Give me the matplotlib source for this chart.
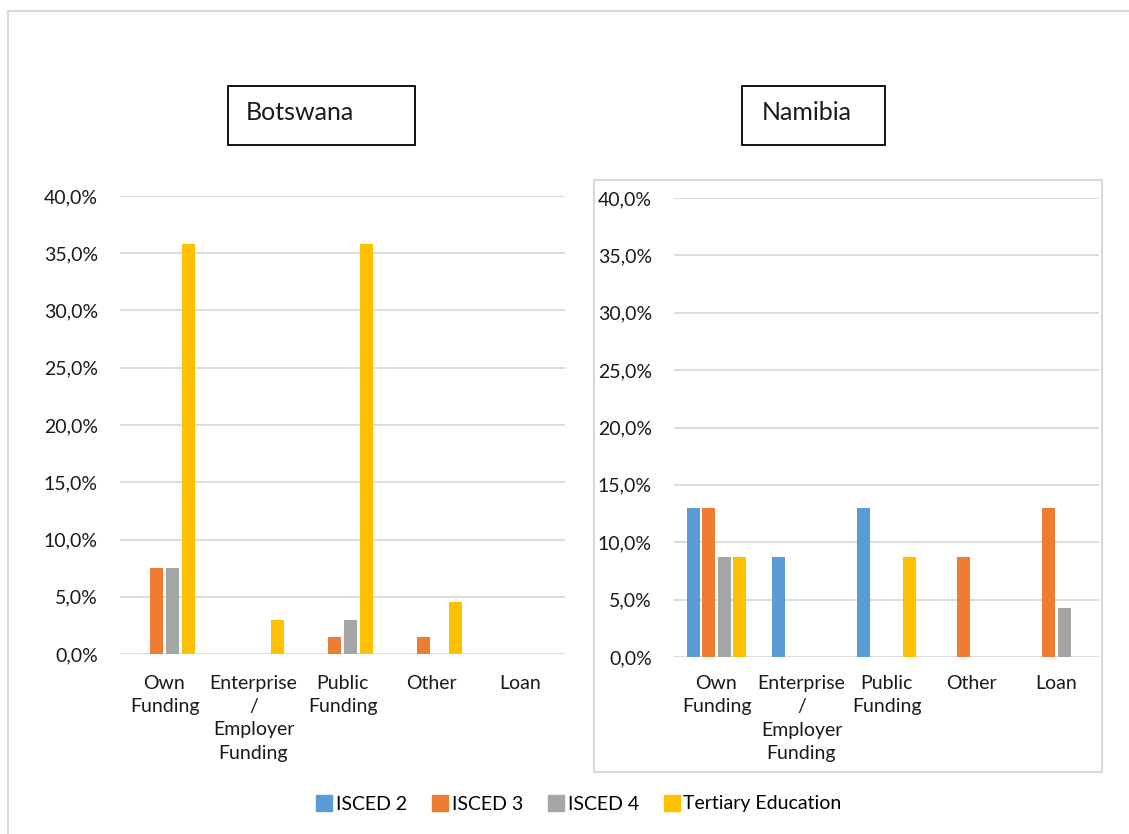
import matplotlib
matplotlib.use("Agg")
from matplotlib import pyplot
from matplotlib.patches import Rectangle
from matplotlib.lines import Line2D
import numpy

categories = ["Own\nFunding", "Enterprise\n/\nEmployer\nFunding", "Public\nFunding", "Other", "Loan"]
series_names = ["ISCED 2", "ISCED 3", "ISCED 4", "Tertiary Education"]
colors = ["#5B9BD5", "#ED7D31", "#A5A5A5", "#FFC000"]

# shares in percent
botswana_isced2 = [0.0, 0.0, 0.0, 0.0, 0.0]
botswana_isced3 = [7.5, 0.0, 1.5, 1.5, 0.0]
botswana_isced4 = [7.5, 0.0, 3.0, 0.0, 0.0]
botswana_tertiary = [35.8, 3.0, 35.8, 4.5, 0.0]

namibia_isced2 = [13.0, 8.7, 13.0, 0.0, 0.0]
namibia_isced3 = [13.0, 0.0, 0.0, 8.7, 13.0]
namibia_isced4 = [8.7, 0.0, 0.0, 0.0, 4.3]
namibia_tertiary = [8.7, 0.0, 8.7, 0.0, 0.0]

yticks = [0, 5, 10, 15, 20, 25, 30, 35, 40]

W, H = 1129, 834
FS = 14
pyplot.rcParams["font.family"] = ["Lato", "DejaVu Sans"]
fig = pyplot.figure(figsize=(W / 100, H / 100), dpi=100)


def px_axes(x0, x1, y0, y1):
    return fig.add_axes([x0 / W, 1 - y1 / H, (x1 - x0) / W, (y1 - y0) / H])


def px_rect(x0, x1, y0, y1, **kw):
    fig.patches.append(Rectangle((x0 / W, 1 - y1 / H), (x1 - x0) / W, (y1 - y0) / H,
                                 transform=fig.transFigure, fill=False, **kw))


def draw_panel(ax, data, xpad):
    x = numpy.arange(len(categories))
    step, width = 0.18, 0.15
    for i, vals in enumerate(data):
        ax.bar(x + (i - 1.5) * step, vals, width, color=colors[i], linewidth=0, zorder=3)
    ax.set_xlim(-0.5, len(categories) - 0.5)
    ax.set_ylim(0, 40)
    ax.set_yticks(yticks)
    ax.set_yticklabels([f"{v:.1f}%".replace(".", ",") for v in yticks], fontsize=FS, color="#1a1a1a")
    ax.set_xticks(x)
    ax.set_xticklabels(categories, fontsize=FS, color="#1a1a1a", linespacing=1.45)
    ax.tick_params(length=0)
    ax.tick_params(axis="y", pad=16)
    ax.tick_params(axis="x", pad=xpad)
    ax.grid(axis="y", color="#D9D9D9", linewidth=1.3, zorder=0)
    for s in ax.spines.values():
        s.set_visible(False)
    ax.set_facecolor("none")


# outer frame and the Namibia panel frame
px_rect(8, 1140, 11, 850, edgecolor="#D9D9D9", linewidth=1.5)
px_rect(594, 1102, 180, 772, edgecolor="#D9D9D9", linewidth=1.5)

ax1 = px_axes(120, 565, 196, 654)
draw_panel(ax1, [botswana_isced2, botswana_isced3, botswana_isced4, botswana_tertiary], 15)

ax2 = px_axes(674, 1099, 198, 657)
draw_panel(ax2, [namibia_isced2, namibia_isced3, namibia_isced4, namibia_tertiary], 13)

# country title boxes
px_rect(228, 415, 86, 145, edgecolor="black", linewidth=1.3)
fig.text(246 / W, 1 - 112 / H, "Botswana", fontsize=18, va="center", ha="left", color="#1a1a1a")
px_rect(742, 885, 86, 145, edgecolor="black", linewidth=1.3)
fig.text(762 / W, 1 - 112 / H, "Namibia", fontsize=18, va="center", ha="left", color="#1a1a1a")

handles = [Line2D([], [], marker="s", linestyle="none", markersize=12, color=c) for c in colors]
fig.legend(handles, series_names, loc="center", bbox_to_anchor=(578 / W, 1 - 804 / H), ncol=4,
           frameon=False, fontsize=FS, handletextpad=0.1, columnspacing=1.2, handlelength=1.0)

fig.savefig("out.png", dpi=100)
